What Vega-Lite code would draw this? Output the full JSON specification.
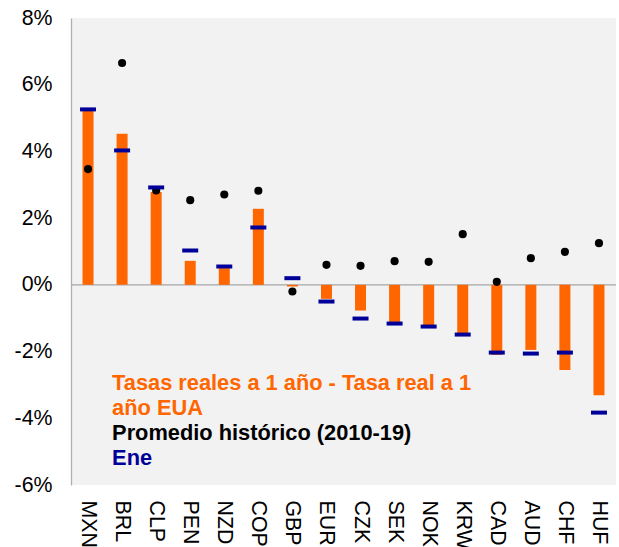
{
  "$schema": "https://vega.github.io/schema/vega-lite/v6.json",
  "width": 545,
  "height": 467,
  "autosize": {"type": "none"},
  "padding": {"left": 71, "top": 18, "right": 3, "bottom": 62},
  "background": "white",
  "config": {
    "view": {"fill": "#f2f2f2", "stroke": null},
    "font": "Liberation Sans"
  },
  "datasets": {
    "main": [
      {"moneda": "MXN", "diferencial": 5.25, "promedio": 3.47, "ene": 5.26},
      {"moneda": "BRL", "diferencial": 4.53, "promedio": 6.65, "ene": 4.03},
      {"moneda": "CLP", "diferencial": 2.78, "promedio": 2.83, "ene": 2.92},
      {"moneda": "PEN", "diferencial": 0.72, "promedio": 2.54, "ene": 1.03},
      {"moneda": "NZD", "diferencial": 0.5, "promedio": 2.71, "ene": 0.55},
      {"moneda": "COP", "diferencial": 2.28, "promedio": 2.82, "ene": 1.72},
      {"moneda": "GBP", "diferencial": -0.05, "promedio": -0.2, "ene": 0.2},
      {"moneda": "EUR", "diferencial": -0.42, "promedio": 0.6, "ene": -0.5},
      {"moneda": "CZK", "diferencial": -0.77, "promedio": 0.57, "ene": -1.01},
      {"moneda": "SEK", "diferencial": -1.15, "promedio": 0.71, "ene": -1.16},
      {"moneda": "NOK", "diferencial": -1.25, "promedio": 0.69, "ene": -1.25},
      {"moneda": "KRW", "diferencial": -1.51, "promedio": 1.52, "ene": -1.49},
      {"moneda": "CAD", "diferencial": -2.1, "promedio": 0.09, "ene": -2.03},
      {"moneda": "AUD", "diferencial": -1.95, "promedio": 0.8, "ene": -2.06},
      {"moneda": "CHF", "diferencial": -2.55, "promedio": 0.99, "ene": -2.03},
      {"moneda": "HUF", "diferencial": -3.31, "promedio": 1.25, "ene": -3.83}
    ],
    "leyenda": [
      {"texto": "Tasas reales a 1 año - Tasa real a 1", "serie": "dif", "y": -2.94, "moneda": "BRL"},
      {"texto": "año EUA", "serie": "dif", "y": -3.69, "moneda": "BRL"},
      {"texto": "Promedio histórico (2010-19)", "serie": "prom", "y": -4.44, "moneda": "BRL"},
      {"texto": "Ene", "serie": "ene", "y": -5.19, "moneda": "BRL"}
    ]
  },
  "data": {"name": "main"},
  "encoding": {
    "x": {
      "field": "moneda",
      "type": "nominal",
      "sort": null,
      "scale": {"paddingInner": 0, "paddingOuter": 0},
      "axis": {
        "title": null,
        "labelAngle": 90,
        "labelAlign": "left",
        "labelBaseline": "middle",
        "labelFontSize": 21.33,
        "labelColor": "black",
        "labelPadding": 15,
        "ticks": false,
        "domain": false,
        "orient": "bottom"
      }
    }
  },
  "layer": [
    {
      "mark": {"type": "rule", "color": "#a6a6a6", "strokeWidth": 1.3},
      "data": {"values": [{"z": 0}]},
      "encoding": {"y": {"field": "z", "type": "quantitative"}, "x": null}
    },
    {
      "mark": {"type": "bar", "color": "#ff6600", "size": 11},
      "encoding": {
        "y": {
          "field": "diferencial",
          "type": "quantitative",
          "scale": {"domain": [-6, 8], "nice": false},
          "axis": {
            "title": null,
            "values": [-6, -4, -2, 0, 2, 4, 6, 8],
            "labelExpr": "datum.value + '%'",
            "labelFontSize": 21.33,
            "labelColor": "black",
            "labelPadding": 19,
            "ticks": false,
            "grid": false,
            "domainColor": "#b0b0b0",
            "domainWidth": 1.3
          }
        }
      }
    },
    {
      "mark": {"type": "circle", "color": "black", "size": 66, "opacity": 1},
      "encoding": {"y": {"field": "promedio", "type": "quantitative"}}
    },
    {
      "mark": {"type": "tick", "color": "#000099", "size": 16, "thickness": 4, "opacity": 1},
      "encoding": {"y": {"field": "ene", "type": "quantitative"}}
    },
    {
      "data": {"name": "leyenda"},
      "mark": {"type": "text", "align": "left", "baseline": "middle", "dx": -10, "fontSize": 21.8, "fontWeight": "bold"},
      "encoding": {
        "y": {"field": "y", "type": "quantitative"},
        "text": {"field": "texto"},
        "color": {
          "field": "serie",
          "type": "nominal",
          "scale": {"domain": ["dif", "prom", "ene"], "range": ["#ff6600", "#000000", "#000099"]},
          "legend": null
        }
      }
    }
  ]
}
